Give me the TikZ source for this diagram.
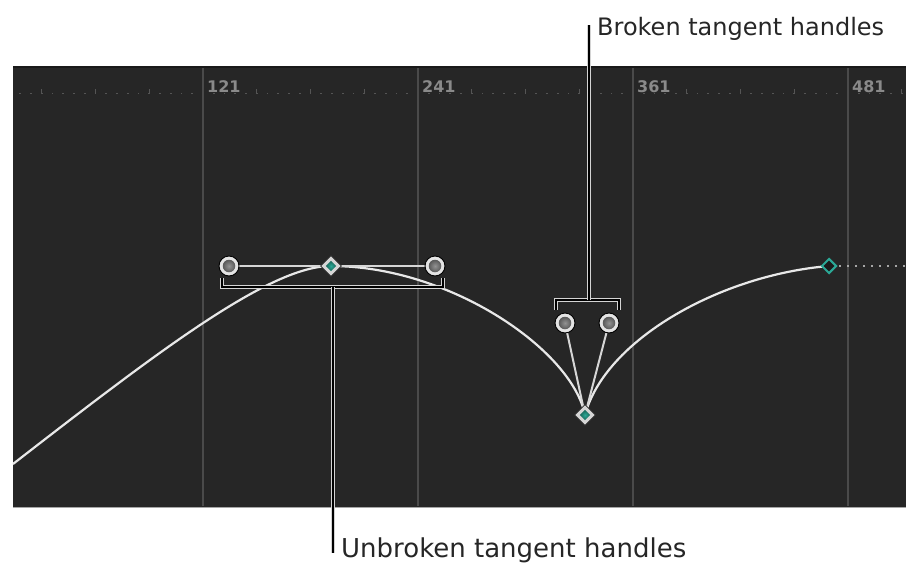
\documentclass[tikz,border=0pt]{standalone}
\usepackage{fontspec}
\setmainfont{DejaVu Sans}
\usetikzlibrary{shapes.geometric}
\definecolor{bg}{HTML}{262626}
\definecolor{grid}{HTML}{4A4A4A}
\definecolor{rul}{HTML}{555555}
\definecolor{lab}{HTML}{8A8A8A}
\definecolor{curve}{HTML}{E8E8E8}
\definecolor{hline}{HTML}{D6D6D6}
\definecolor{ring}{HTML}{E4E4E4}
\definecolor{teal}{HTML}{1F8F7C}
\definecolor{tealo}{HTML}{2BA896}
\definecolor{brk}{HTML}{D4D4D4}
\tikzset{
  gridline/.style={grid, line width=1.5pt},
  curveline/.style={curve, line width=2.2pt},
  handleline/.style={hline, line width=2pt},
  handle/.style={circle, draw=black, line width=0.9pt, fill=ring, minimum size=20pt, inner sep=0pt},
  handlein/.style={circle, inner sep=0pt, minimum size=12.5pt, inner color=gray!85, outer color=black!65},
  keysel/.style={diamond, draw=black!85, line width=0.8pt, fill=hline, minimum size=21pt, inner sep=0pt},
  keyin/.style={diamond, inner sep=0pt, minimum size=10.5pt, inner color=tealo, outer color=teal!70!black},
  keyplain/.style={diamond, draw=tealo, line width=2pt, fill=bg!70!black, minimum size=15pt, inner sep=0pt},
  bracket/.style={draw=brk, double=black, double distance=1.6pt, line width=1.1pt},
  calltext/.style={font=\fontsize{24}{28}\selectfont, text=black!85, inner sep=0pt, anchor=base west},
  rulelabel/.style={font=\bfseries\fontsize{16}{19}\selectfont, text=lab, inner sep=0pt, anchor=base west}
}
\begin{document}
\begin{tikzpicture}[x=1pt, y=-1pt]
\useasboundingbox (0,0) rectangle (906,565);
\fill[white] (0,0) rectangle (906,565);
% panel
\fill[bg] (13,66) rectangle (906,507);
\draw[black!90, line width=2pt] (13,67) -- (906,67);
\draw[black!35, line width=1pt] (13,507) -- (906,507);
% ruler dots and ticks
\foreach \k in {-17,...,65}{
  \fill[rul] ({203+\k*10.75-0.8},92.7) rectangle ({203+\k*10.75+0.8},94.3);
}
\foreach \k in {-3,...,13}{
  \draw[rul, line width=1pt] ({203+\k*53.75},89) -- ({203+\k*53.75},94.3);
}
% grid lines
\foreach \x in {203,418,633,848}{
  \draw[gridline] (\x,68) -- (\x,506);
}
\node[rulelabel] (l121) at (207,92.5) {121};
\node[rulelabel] (l241) at (422,92.5) {241};
\node[rulelabel] (l361) at (637,92.5) {361};
\node[rulelabel] (l481) at (852,92.5) {481};
% dotted continuation
\foreach \k in {0,...,8}{
  \fill[gray!70] ({840+\k*8-1.3},264.7) rectangle ({840+\k*8+1.3},267.3);
}
% keyframe positions
\coordinate (s) at (13,464);
\coordinate (k1c) at (331,266);
\coordinate (k2c) at (585,415);
\coordinate (k3c) at (829,266);
% curve
\draw[curveline] (s) .. controls (160,350) and (270,266) .. (k1c)
  .. controls (450,266) and (572,350) .. (k2c)
  .. controls (605,340) and (720,275) .. (k3c);
% handle lines
\coordinate (h1c) at (229,266);
\coordinate (h2c) at (435,266);
\coordinate (h3c) at (565,323);
\coordinate (h4c) at (609,323);
\draw[handleline] (h1c) -- (k1c) -- (h2c);
\draw[handleline] (h3c) -- (k2c) -- (h4c);
% handles
\node[handle] (h1) at (h1c) {};
\node[handlein] (h1i) at (h1c) {};
\node[handle] (h2) at (h2c) {};
\node[handlein] (h2i) at (h2c) {};
\node[handle] (h3) at (h3c) {};
\node[handlein] (h3i) at (h3c) {};
\node[handle] (h4) at (h4c) {};
\node[handlein] (h4i) at (h4c) {};
% keyframes
\node[keysel] (k1) at (k1c) {};
\node[keyin] (k1i) at (k1c) {};
\node[keysel] (k2) at (k2c) {};
\node[keyin] (k2i) at (k2c) {};
\node[keyplain] (k3) at (k3c) {};
% texts
\node[calltext] (tb) at (597,35.5) {Broken tangent handles};
\node[calltext, font=\fontsize{26}{30}\selectfont] (tu) at (341,557.5) {Unbroken tangent handles};
% brackets and leaders
\coordinate (ub) at (333,287);
\coordinate (bb) at (589,300);
\coordinate (tbs) at (589,25);
\coordinate (tus) at (333,553);
\draw[bracket] (222,278) -- (222,287) -- (443,287) -- (443,278);
\draw[bracket] (556,310) -- (556,300) -- (619,300) -- (619,310);
\draw[bracket] (ub) -- (tus);
\draw[bracket] (bb) -- (tbs);
\end{tikzpicture}
\end{document}
